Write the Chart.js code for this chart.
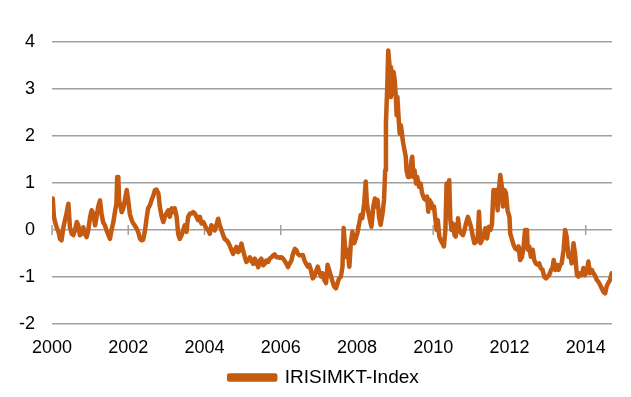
<!DOCTYPE html>
<html>
<head>
<meta charset="utf-8">
<script src="https://cdn.jsdelivr.net/npm/chart.js@4"></script>
<style>
html,body{margin:0;padding:0;background:#fff;}
#wrap{width:631px;height:397px;}
</style>
</head>
<body>
<div id="wrap"><canvas id="c" width="631" height="397"></canvas></div>
<script>
const seriesName = "IRISIMKT-Index";
const xTickLabels = [2000, 2002, 2004, 2006, 2008, 2010, 2012, 2014];
const yTickValues = [-2, -1, 0, 1, 2, 3, 4];

const years = [
2000.02,2000.05,2000.08,2000.12,2000.17,2000.21,2000.25,2000.30,2000.34,2000.38,2000.43,2000.47,2000.52,2000.56,2000.60,2000.65,2000.69,2000.73,2000.78,2000.82,2000.86,2000.91,2000.95,
2001.00,2001.04,2001.08,2001.13,2001.17,2001.21,2001.26,2001.30,2001.34,2001.39,2001.43,2001.48,2001.52,2001.56,2001.61,2001.65,2001.69,2001.71,2001.74,2001.76,2001.80,2001.83,2001.87,2001.91,2001.96,
2002.00,2002.04,2002.09,2002.13,2002.17,2002.22,2002.26,2002.31,2002.35,2002.39,2002.44,2002.48,2002.52,2002.57,2002.61,2002.66,2002.70,2002.74,2002.79,2002.83,2002.87,2002.92,2002.96,
2003.00,2003.05,2003.09,2003.14,2003.18,2003.22,2003.27,2003.31,2003.35,2003.40,2003.44,2003.48,2003.53,2003.57,2003.62,2003.66,2003.70,2003.75,2003.79,2003.83,2003.88,2003.92,2003.97,
2004.01,2004.05,2004.10,2004.14,2004.18,2004.23,2004.27,2004.31,2004.36,2004.40,2004.45,2004.49,2004.53,2004.58,2004.62,2004.66,2004.71,2004.75,2004.79,2004.84,2004.88,2004.93,2004.97,
2005.01,2005.06,2005.10,2005.14,2005.19,2005.23,2005.28,2005.32,2005.36,2005.41,2005.45,2005.49,2005.54,2005.58,2005.62,2005.67,2005.71,2005.76,2005.80,2005.84,2005.89,2005.93,2005.97,
2006.02,2006.06,2006.10,2006.15,2006.19,2006.23,2006.28,2006.32,2006.37,2006.41,2006.45,2006.50,2006.58,2006.62,2006.66,2006.71,2006.75,2006.79,2006.84,2006.88,2006.92,2006.97,
2007.01,2007.06,2007.10,2007.14,2007.19,2007.23,2007.27,2007.32,2007.36,2007.40,2007.45,2007.49,2007.53,2007.58,2007.62,2007.65,2007.68,2007.71,2007.75,2007.80,2007.84,2007.88,2007.93,2007.97,
2008.01,2008.06,2008.10,2008.14,2008.19,2008.23,2008.26,2008.29,2008.34,2008.38,2008.43,2008.47,2008.50,2008.54,2008.58,2008.62,2008.67,2008.71,2008.74,2008.76,2008.80,2008.82,2008.85,2008.87,2008.89,2008.91,2008.94,2008.96,2008.99,
2009.02,2009.04,2009.06,2009.09,2009.12,2009.15,2009.17,2009.20,2009.23,2009.28,2009.30,2009.34,2009.38,2009.43,2009.45,2009.48,2009.51,2009.55,2009.58,2009.63,2009.67,2009.71,2009.76,2009.80,2009.84,2009.87,2009.90,2009.95,2009.99,
2010.02,2010.05,2010.09,2010.12,2010.16,2010.19,2010.24,2010.28,2010.32,2010.35,2010.38,2010.42,2010.45,2010.48,2010.51,2010.56,2010.59,2010.63,2010.65,2010.69,2010.73,2010.78,2010.82,2010.86,2010.91,2010.95,2010.99,
2011.04,2011.08,2011.13,2011.17,2011.20,2011.24,2011.28,2011.32,2011.37,2011.41,2011.46,2011.50,2011.54,2011.58,2011.61,2011.65,2011.69,2011.73,2011.76,2011.80,2011.83,2011.87,2011.91,2011.95,
2012.00,2012.02,2012.07,2012.11,2012.15,2012.20,2012.24,2012.28,2012.33,2012.37,2012.41,2012.46,2012.48,2012.52,2012.56,2012.61,2012.65,2012.69,2012.74,2012.78,2012.82,2012.87,2012.91,2012.96,
2013.00,2013.04,2013.09,2013.13,2013.16,2013.20,2013.25,2013.29,2013.33,2013.37,2013.42,2013.46,2013.50,2013.55,2013.59,2013.63,2013.68,2013.72,2013.77,2013.81,2013.85,2013.90,2013.94,2013.98,
2014.03,2014.07,2014.11,2014.16,2014.20,2014.24,2014.29,2014.33,2014.38,2014.42,2014.46,2014.51,2014.55,2014.59,2014.64,2014.68
];

const values = [
0.67,0.28,0.17,0.06,-0.04,-0.19,-0.22,0.06,0.21,0.35,0.56,0.06,-0.08,-0.11,-0.01,0.17,0.10,-0.11,-0.08,0.06,-0.08,-0.15,-0.01,
0.28,0.42,0.35,0.10,0.28,0.49,0.63,0.35,0.17,0.10,-0.01,-0.11,-0.19,-0.01,0.17,0.38,0.56,1.13,1.13,0.63,0.49,0.38,0.46,0.63,0.85,
0.63,0.35,0.21,0.14,0.10,0.03,-0.04,-0.19,-0.22,-0.21,-0.01,0.24,0.46,0.53,0.63,0.74,0.85,0.86,0.78,0.49,0.31,0.17,0.28,
0.35,0.42,0.28,0.46,0.38,0.46,0.28,-0.08,-0.19,-0.11,-0.01,0.10,-0.04,0.28,0.35,0.35,0.38,0.35,0.28,0.21,0.28,0.14,0.17,
0.10,0.03,-0.01,-0.08,0.10,0.06,-0.01,0.10,0.24,0.10,-0.01,-0.11,-0.19,-0.22,-0.26,-0.33,-0.43,-0.51,-0.43,-0.36,-0.47,-0.43,-0.29,
-0.43,-0.58,-0.68,-0.65,-0.58,-0.65,-0.72,-0.61,-0.68,-0.79,-0.65,-0.61,-0.75,-0.72,-0.65,-0.68,-0.61,-0.58,-0.54,-0.52,-0.58,-0.58,-0.59,
-0.58,-0.61,-0.65,-0.72,-0.79,-0.72,-0.65,-0.51,-0.40,-0.43,-0.51,-0.54,-0.53,-0.64,-0.71,-0.78,-0.74,-0.85,-1.03,-0.99,-0.89,-0.78,
-0.89,-0.99,-0.92,-1.06,-1.13,-0.74,-0.85,-0.99,-1.10,-1.20,-1.24,-1.13,-1.03,-0.99,-0.78,0.04,-0.28,-0.57,-0.42,-0.78,-0.28,-0.04,-0.28,-0.18,
-0.07,0.14,0.32,0.25,0.57,1.03,0.57,0.42,0.21,0.07,0.50,0.67,0.50,0.64,0.28,0.11,0.35,0.64,1.27,2.27,3.19,3.82,3.54,2.83,3.47,3.33,2.90,3.36,3.19,
2.83,2.44,2.83,2.41,2.05,2.23,2.12,1.91,1.77,1.56,1.27,1.13,1.13,1.49,1.56,1.13,1.27,0.99,1.13,0.92,0.99,0.78,0.67,0.64,0.71,0.39,0.64,0.57,0.46,
0.50,0.28,0.00,0.21,-0.14,-0.21,-0.28,-0.35,0.00,0.99,0.42,1.06,0.21,0.00,0.14,-0.11,-0.14,0.14,0.25,0.00,-0.07,-0.11,0.00,0.14,0.28,0.18,0.07,
-0.14,-0.28,-0.25,-0.14,0.39,-0.28,-0.21,-0.14,0.04,-0.18,0.07,0.00,0.11,0.85,0.71,0.85,0.42,0.92,1.17,0.92,0.50,0.85,0.78,0.42,
0.28,-0.07,-0.21,-0.32,-0.39,-0.42,-0.35,-0.64,-0.57,-0.35,0.00,0.00,-0.42,-0.35,-0.57,-0.42,-0.64,-0.71,-0.74,-0.71,-0.81,-0.85,-0.99,-1.03,
-0.99,-0.96,-0.85,-0.81,-0.64,-0.85,-0.74,-0.85,-0.74,-0.71,-0.42,0.00,-0.14,-0.57,-0.50,-0.71,-0.28,-0.50,-0.96,-0.99,-0.92,-0.96,-0.81,-0.96,
-0.89,-0.67,-0.92,-0.85,-0.92,-0.96,-1.06,-1.10,-1.17,-1.24,-1.31,-1.35,-1.20,-1.13,-1.06,-0.92
];

const LINE_COLOR = 'rgb(197,90,17)';
const GRID_COLOR = '#a0a0a0';
const FONT = "'Liberation Sans', Arial, sans-serif";

const points = years.map((x, i) => ({x: x, y: values[i]}));

const zeroTicks = {
  id: 'zeroTicks',
  beforeDatasetsDraw(chart) {
    const xs = chart.scales.x, ys = chart.scales.y;
    const y0 = ys.getPixelForValue(0);
    const ctx = chart.ctx;
    ctx.save();
    ctx.strokeStyle = GRID_COLOR;
    ctx.lineWidth = 1.5;
    ctx.beginPath();
    xTickLabels.forEach(v => {
      const px = xs.getPixelForValue(v);
      ctx.moveTo(px, y0 - 5);
      ctx.lineTo(px, y0 + 5);
    });
    ctx.stroke();
    ctx.restore();
  }
};

const legendShift = {
  id: 'legendShift',
  afterLayout(chart) {
    if (chart.legend) { chart.legend.left += 36; }
  }
};

new Chart(document.getElementById('c'), {
  type: 'line',
  data: {
    datasets: [{
      label: seriesName,
      data: points,
      borderColor: LINE_COLOR,
      backgroundColor: LINE_COLOR,
      borderWidth: 4.5,
      pointRadius: 0,
      tension: 0,
      borderJoinStyle: 'round',
      borderCapStyle: 'round',
      fill: false
    }]
  },
  options: {
    responsive: false,
    animation: false,
    devicePixelRatio: 1,
    layout: { padding: { top: 42, right: 19, left: 0, bottom: 0 } },
    plugins: {
      legend: {
        position: 'bottom',
        labels: {
          boxWidth: 46,
          boxHeight: 4,
          padding: 10,
          color: '#000',
          font: { family: FONT, size: 19 }
        }
      },
      tooltip: { enabled: false }
    },
    scales: {
      x: {
        type: 'linear',
        min: 2000,
        max: 2014.69,
        grid: { display: false, drawTicks: false },
        border: { display: false },
        afterFit(s) { s.height = 34; },
        afterBuildTicks(s) { s.ticks = xTickLabels.map(v => ({value: v})); },
        ticks: {
          stepSize: 2,
          includeBounds: false,
          autoSkip: false,
          maxRotation: 0,
          padding: 13,
          color: '#000',
          font: { family: FONT, size: 18 },
          callback: v => String(v)
        }
      },
      y: {
        min: -2,
        max: 4,
        afterFit(s) { s.width = 52; },
        afterBuildTicks(s) { s.ticks = yTickValues.map(v => ({value: v})); },
        grid: { color: GRID_COLOR, lineWidth: 1.5, drawTicks: false },
        border: { display: false },
        ticks: {
          stepSize: 1,
          padding: 17,
          color: '#000',
          font: { family: FONT, size: 18 },
          callback: v => String(v)
        }
      }
    }
  },
  plugins: [zeroTicks, legendShift]
});
</script>
</body>
</html>
